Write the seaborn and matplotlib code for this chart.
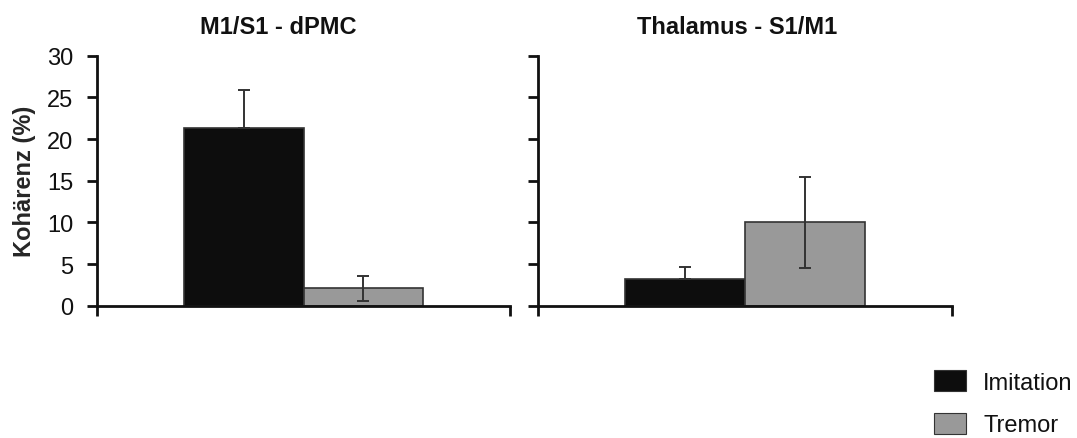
import matplotlib
matplotlib.use("Agg")
import matplotlib.pyplot as plt
import seaborn as sns
import pandas as pd
from matplotlib.patches import Patch

# Data
panels = ["M1/S1 - dPMC", "Thalamus - S1/M1"]
conditions = ["Imitation", "Tremor"]
imitation_vals = [21.3, 3.2]
tremor_vals = [2.1, 10.0]
imitation_err = [4.6, 1.4]
tremor_err = [1.5, 5.5]
yticks = [0, 5, 10, 15, 20, 25, 30]

colors = {"Imitation": "#0d0d0d", "Tremor": "#999999"}

sns.set_style("white")
plt.rcParams["font.family"] = ["Liberation Sans", "DejaVu Sans"]

W, H = 1077, 439
fig = plt.figure(figsize=(W / 100, H / 100), dpi=100)

ax_boxes = [(97, 56.7, 510, 306.7), (538, 56.7, 952, 306.7)]
title_x = [0.44, 0.48]
FS = 17

for i, panel in enumerate(panels):
    x0, y0, x1, y1 = ax_boxes[i]
    ax = fig.add_axes([x0 / W, 1 - y1 / H, (x1 - x0) / W, (y1 - y0) / H])
    df = pd.DataFrame({
        "panel": [panel, panel],
        "cond": conditions,
        "val": [imitation_vals[i], tremor_vals[i]],
    })
    errs = [imitation_err[i], tremor_err[i]]
    sns.barplot(data=df, x="panel", y="val", hue="cond", hue_order=conditions,
                palette=colors, width=0.58, ax=ax, errorbar=None,
                edgecolor="#333333", linewidth=1.2, legend=False, saturation=1)
    bars = [p for p in ax.patches if p.get_height() > 0]
    for cond, bar, e in zip(conditions, bars, errs):
        cx = bar.get_x() + bar.get_width() / 2
        # lower half of the whisker disappears inside the black bar
        lower = 0 if cond == "Imitation" else e
        ax.errorbar(cx, bar.get_height(), yerr=[[lower], [e]], fmt="none",
                    ecolor="#333333", elinewidth=1.4, capsize=4, capthick=1.4,
                    zorder=5)
    ax.set_xlim(-0.5, 0.5)
    ax.set_ylim(0, 30)
    ax.set_yticks(yticks)
    ax.set_xticks([-0.5, 0.5])
    ax.set_xticklabels([])
    ax.set_xlabel("")
    if i == 0:
        ax.set_yticklabels([str(t) for t in yticks], fontsize=FS)
        ax.set_ylabel("Kohärenz (%)", fontsize=FS, fontweight="bold", labelpad=8)
    else:
        ax.set_yticklabels([])
        ax.set_ylabel("")
    ax.tick_params(axis="both", direction="out", length=7, width=2, color="#111111",
                   left=True, bottom=True, pad=10, labelcolor="#111111")
    for s in ["top", "right"]:
        ax.spines[s].set_visible(False)
    for s in ["left", "bottom"]:
        ax.spines[s].set_linewidth(2)
        ax.spines[s].set_color("#111111")
    ax.set_title(panel, fontsize=FS, fontweight="bold", x=title_x[i], pad=16,
                 color="#111111")

handles = [Patch(facecolor=colors[c], edgecolor="#333333", linewidth=0.8) for c in conditions]
fig.legend(handles, conditions, loc="upper left",
           bbox_to_anchor=(934 / W, 1 - 371 / H), frameon=False, fontsize=FS,
           handlelength=1.36, handleheight=1.02, handletextpad=0.72,
           labelspacing=0.8, borderpad=0, borderaxespad=0, labelcolor="#111111")

fig.savefig("out.png", dpi=100, facecolor="white")
